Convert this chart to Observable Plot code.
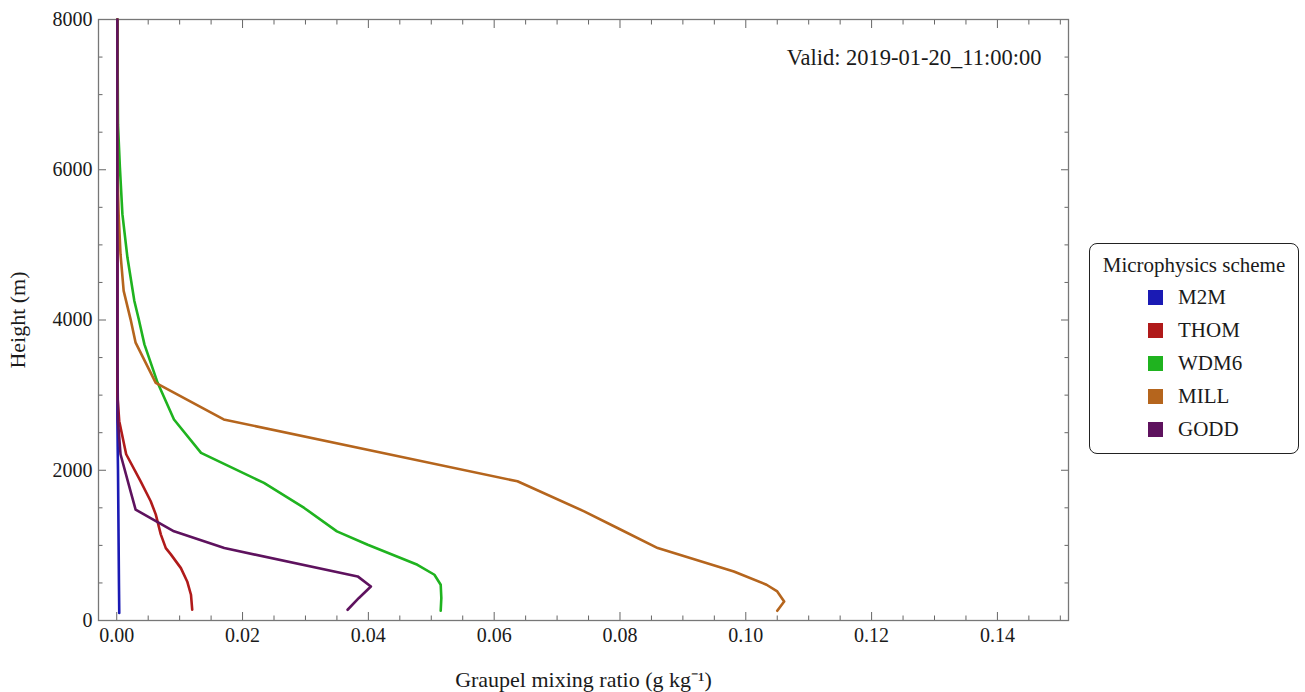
<!DOCTYPE html>
<html>
<head>
<meta charset="utf-8">
<script src="https://cdn.jsdelivr.net/npm/d3@7"></script>
<script src="https://cdn.jsdelivr.net/npm/@observablehq/plot@0.6"></script>
<style>
  html, body { margin: 0; padding: 0; background: #fff; }
  #wrap { position: relative; width: 1305px; height: 692px; font-family: "Liberation Serif", "DejaVu Serif", serif; }
  #legend { position: absolute; left: 1089px; top: 243px; width: 210px; height: 211px; border: 1.5px solid #222; border-radius: 8px; box-sizing: border-box; background: #fff; color: #1a1a1a; }
  #legend .title { position: absolute; left: 0; width: 100%; top: 9px; text-align: center; font-size: 21px; line-height: 24px; }
  #legend .item { position: absolute; left: 58px; font-size: 21px; height: 24px; line-height: 24px; }
  #legend .sw { display: inline-block; width: 15px; height: 15px; vertical-align: -1px; margin-right: 15px; }
</style>
</head>
<body>
<div id="wrap"><div id="chart"></div><div id="legend"></div></div>
<script>
// ---- data ----
const schemes = ["M2M", "THOM", "WDM6", "MILL", "GODD"];
const schemeColors = ["#1a1ab4", "#b01a1a", "#1fb31f", "#b5651d", "#5e125e"];

const m2mHeight = [100, 500, 1000, 1500, 2000, 2300, 2700, 3500, 5000, 8000];
const m2mValue  = [0.0004, 0.00035, 0.0003, 0.00025, 0.0002, 0.00015, 0.0001, 0.0001, 0.0001, 0.0001];

const thomHeight = [143, 343, 520, 697, 880, 964, 1147, 1413, 1587, 1853, 2213, 2653, 3000, 5000, 8000];
const thomValue  = [0.0120, 0.0118, 0.0112, 0.0102, 0.0086, 0.0078, 0.0070, 0.0062, 0.0054, 0.0038, 0.0015, 0.0004, 0.0001, 0.0001, 0.0001];

const wdm6Height = [129, 300, 476, 609, 742, 1009, 1187, 1498, 1831, 2231, 2676, 3164, 3676, 4009, 4253, 4831, 5409, 6031, 6600, 8000];
const wdm6Value  = [0.0515, 0.0516, 0.0515, 0.0505, 0.0478, 0.0399, 0.0350, 0.0298, 0.0234, 0.0134, 0.0091, 0.0065, 0.0044, 0.0035, 0.0028, 0.0017, 0.0009, 0.0005, 0.0002, 0.0001];

const millHeight = [129, 253, 387, 476, 653, 964, 1231, 1453, 1853, 2676, 3164, 3698, 4009, 4387, 4876, 5409, 6000, 8000];
const millValue  = [0.1050, 0.1061, 0.1050, 0.1033, 0.0981, 0.0860, 0.0796, 0.0743, 0.0637, 0.0170, 0.0062, 0.0030, 0.0022, 0.0011, 0.0006, 0.0003, 0.0001, 0.0001];

const goddHeight = [143, 300, 453, 587, 964, 1187, 1476, 1720, 2213, 2653, 3500, 8000];
const goddValue  = [0.0367, 0.0385, 0.0404, 0.0383, 0.0171, 0.0091, 0.0030, 0.0022, 0.0006, 0.0002, 0.0001, 0.0001];

const xMajor = [0, 0.02, 0.04, 0.06, 0.08, 0.10, 0.12, 0.14];
const yMajor = [0, 2000, 4000, 6000, 8000];
const validText = "Valid: 2019-01-20_11:00:00";
const xLabel = "Graupel mixing ratio (g kg\u207B\u00B9)";
const yLabel = "Height (m)";
const legendTitle = "Microphysics scheme";

// ---- build table ----
const seriesH = [m2mHeight, thomHeight, wdm6Height, millHeight, goddHeight];
const seriesV = [m2mValue, thomValue, wdm6Value, millValue, goddValue];
const rows = [];
schemes.forEach((s, i) => seriesH[i].forEach((h, j) => rows.push({scheme: s, h, v: seriesV[i][j]})));

const xMinor = d3.range(0, 0.1501, 0.005).filter(v => !xMajor.some(m => Math.abs(m - v) < 1e-9));
const yMinor = d3.range(0, 8001, 500).filter(v => v % 2000 !== 0);

const tickStroke = "#666";
const chart = Plot.plot({
  width: 1305,
  height: 692,
  marginLeft: 98,
  marginRight: 237,
  marginTop: 19,
  marginBottom: 72,
  style: {fontFamily: "Liberation Serif, serif", fontSize: "20px", color: "#1a1a1a", background: "#fff"},
  x: {domain: [-0.0029, 0.1513]},
  y: {domain: [0, 8000]},
  color: {domain: schemes, range: schemeColors},
  marks: [
    Plot.axisX({anchor: "bottom", ticks: xMajor, tickSize: 0, tickPadding: 7, tickFormat: d => d.toFixed(2), fontSize: 20,
      label: null}),
    Plot.axisX({anchor: "bottom", ticks: [], label: xLabel, labelAnchor: "center", labelArrow: "none", labelOffset: 66, fontSize: 22}),
    Plot.axisY({anchor: "left", ticks: yMajor, tickSize: 0, tickPadding: 6, tickFormat: d => String(d), fontSize: 20,
      label: null}),
    Plot.axisY({anchor: "left", ticks: [], label: yLabel, labelAnchor: "center", labelArrow: "none", labelOffset: 89, fontSize: 22}),
    Plot.axisX({anchor: "bottom", ticks: xMajor, tickSize: -8, text: null, label: null, stroke: tickStroke}),
    Plot.axisX({anchor: "bottom", ticks: xMinor, tickSize: -4.5, text: null, label: null, stroke: tickStroke}),
    Plot.axisX({anchor: "top", ticks: xMajor, tickSize: -8, text: null, label: null, stroke: tickStroke}),
    Plot.axisX({anchor: "top", ticks: xMinor, tickSize: -4.5, text: null, label: null, stroke: tickStroke}),
    Plot.axisY({anchor: "left", ticks: yMajor, tickSize: -8, text: null, label: null, stroke: tickStroke}),
    Plot.axisY({anchor: "left", ticks: yMinor, tickSize: -4.5, text: null, label: null, stroke: tickStroke}),
    Plot.axisY({anchor: "right", ticks: yMajor, tickSize: -8, text: null, label: null, stroke: tickStroke}),
    Plot.axisY({anchor: "right", ticks: yMinor, tickSize: -4.5, text: null, label: null, stroke: tickStroke}),
    Plot.frame({stroke: "#777", strokeWidth: 1.3}),
    Plot.line(rows, {x: "v", y: "h", z: "scheme", stroke: "scheme", strokeWidth: 2.6, curve: "linear"}),
    Plot.text([validText], {frameAnchor: "top-right", dx: -27, dy: 38, lineAnchor: "middle", textAnchor: "end", fontSize: 22.5, fill: "#1a1a1a"})
  ]
});
document.getElementById("chart").appendChild(chart);

// ---- legend ----
const lg = document.getElementById("legend");
const t = document.createElement("div");
t.className = "title"; t.textContent = legendTitle; lg.appendChild(t);
schemes.forEach((s, i) => {
  const it = document.createElement("div");
  it.className = "item";
  it.style.top = (41 + i * 33) + "px";
  const sw = document.createElement("span");
  sw.className = "sw"; sw.style.background = schemeColors[i];
  it.appendChild(sw);
  it.appendChild(document.createTextNode(s));
  lg.appendChild(it);
});
</script>
</body>
</html>
